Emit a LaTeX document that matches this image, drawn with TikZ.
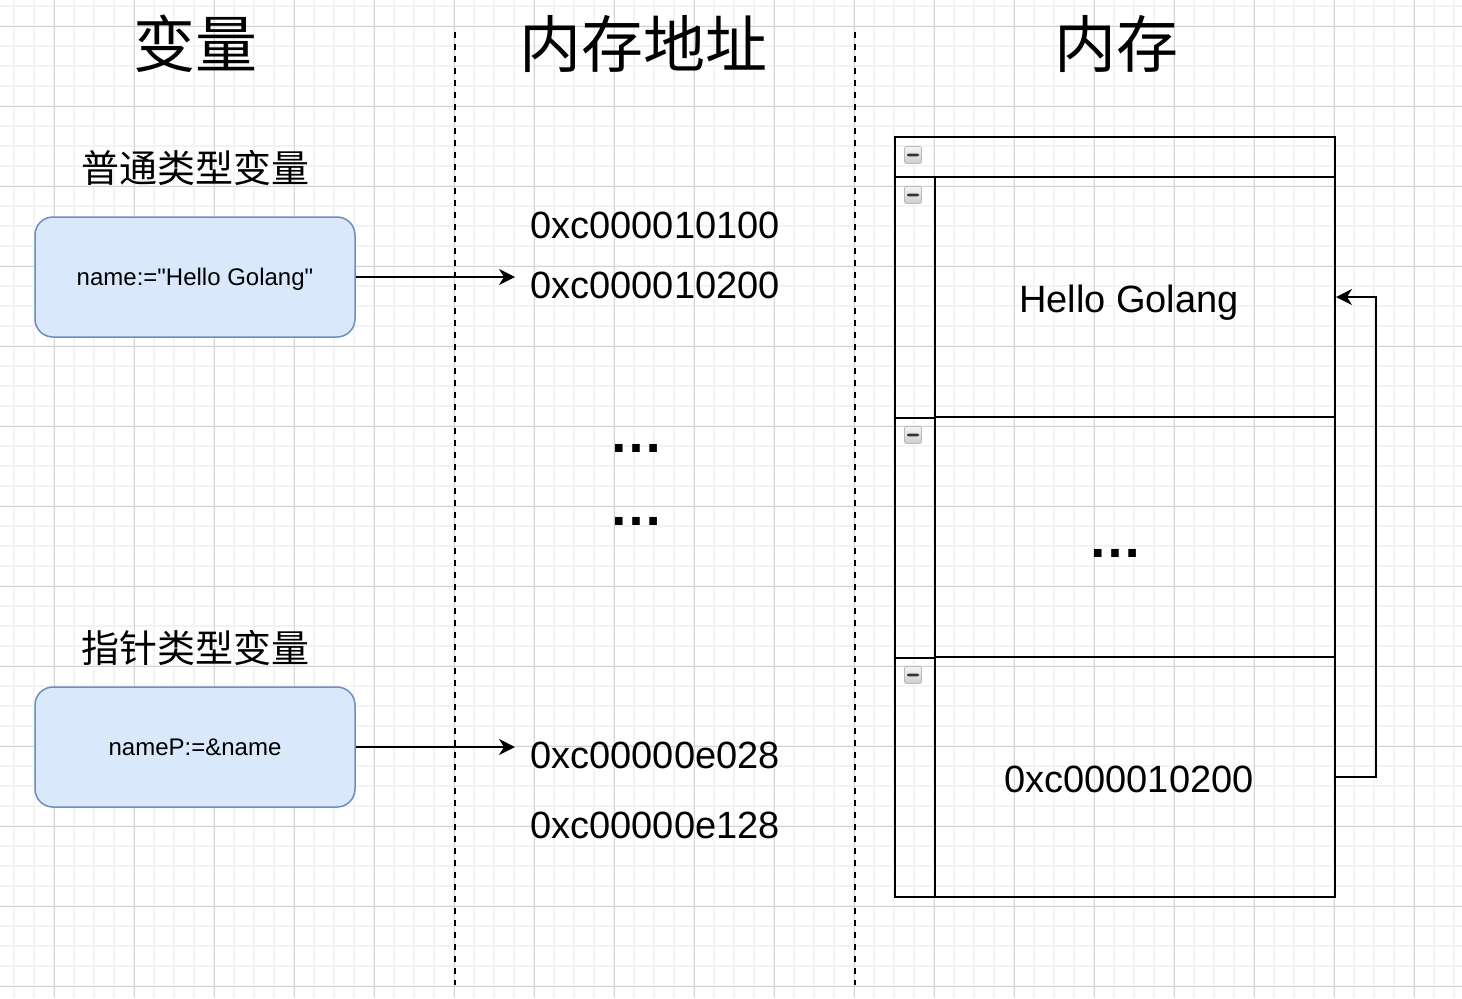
\documentclass[tikz,border=0pt]{standalone}
\usepackage{fontspec}
\setmainfont{Liberation Sans}[Ligatures=TeXOff]
\newfontfamily\cjk{Noto Sans CJK SC}
\usetikzlibrary{arrows.meta}
\definecolor{minorgrid}{HTML}{F3F3F3}
\definecolor{majorgrid}{HTML}{D4D4D4}
\definecolor{boxfill}{HTML}{DAE8FC}
\definecolor{boxline}{HTML}{6C8EBF}

\begin{document}
\begin{tikzpicture}[x=0.5pt,y=-0.5pt,
  title/.style={font=\cjk\fontsize{31}{36}\selectfont,inner sep=0},
  kind/.style={font=\cjk\fontsize{19}{23}\selectfont,inner sep=0},
  var/.style={draw=boxline,fill=boxfill,line width=0.75pt,rounded corners=9pt,
    minimum width=160pt,minimum height=60pt,font=\fontsize{12}{14}\selectfont,text depth=0pt},
  addr/.style={anchor=west,inner sep=0,font=\fontsize{19}{23}\selectfont,text depth=0pt},
  dots/.style={inner sep=0,font=\bfseries\fontsize{27}{30}\selectfont},
  cell/.style={draw,line width=1pt,inner sep=0},
  icon/.style={draw=gray!55,rounded corners=1pt,minimum size=8.5pt,inner sep=0,
    top color=gray!8,bottom color=gray!40,
    path picture={\fill[black!80] ([xshift=-3pt,yshift=-0.7pt]path picture bounding box.center)
      rectangle ([xshift=3pt,yshift=0.7pt]path picture bounding box.center);}},
  arr/.style={-{Stealth[length=8pt,width=8pt,inset=2.5pt]},line width=0.6pt}]
\useasboundingbox (0,0) rectangle (1462,998);
\fill[white] (0,0) rectangle (1462,998);
% grid
\foreach \x in {14,34,...,1454}
  \draw[minorgrid,line width=1pt] (\x,0) -- (\x,998);
\foreach \y in {6,26,...,986}
  \draw[minorgrid,line width=1pt] (0,\y) -- (1462,\y);
\foreach \x in {54,134,...,1414}
  \draw[majorgrid,line width=0.5pt] (\x,0) -- (\x,998);
\foreach \y in {26,106,...,986}
  \draw[majorgrid,line width=0.5pt] (0,\y) -- (1462,\y);

% column separators
\draw[dash pattern=on 3pt off 3pt,line width=1pt] (455,32) -- (455,985);
\draw[dash pattern=on 3pt off 3pt,line width=1pt] (855,32) -- (855,985);

% headings
\node[title] (hvar) at (195,44) {变量};
\node[title] (haddr) at (643,44) {内存地址};
\node[title] (hmem) at (1116,44) {内存};

% variables
\node[kind] (kind1) at (195,168) {普通类型变量};
\node[var] (var1) at (195,277) {name:="Hello Golang"};
\node[kind] (kind2) at (195,648) {指针类型变量};
\node[var] (var2) at (195,747) {nameP:=\&name};

% addresses
\node[addr] (addr1) at (530,225) {0xc000010100};
\node[addr] (addr2) at (530,285) {0xc000010200};
\node[dots] (gap1) at (636,448) {…};
\node[dots] (gap2) at (636,521) {…};
\node[addr] (addr3) at (530,755) {0xc00000e028};
\node[addr] (addr4) at (530,825) {0xc00000e128};
\coordinate (tip1) at (515,277);
\coordinate (tip2) at (515,747);
\draw[arr] (var1.east) -- (tip1);
\draw[arr] (var2.east) -- (tip2);

% memory
\node[cell,minimum width=220pt,minimum height=20pt] (head) at (1115,157) {};
\node[cell,minimum width=20pt,minimum height=360pt] (side) at (915,537) {};
\node[cell,minimum width=200pt,minimum height=120pt] (cell1) at (1135,297) {};
\node[cell,minimum width=200pt,minimum height=120pt] (cell2) at (1135,537) {};
\node[cell,minimum width=200pt,minimum height=120pt] (cell3) at (1135,777) {};
\draw[line width=1pt] (cell1.south west -| side.west) -- (cell1.south west);
\draw[line width=1pt] (cell2.south west -| side.west) -- (cell2.south west);
\node[icon] (i0) at (913,155) {};
\node[icon] (i1) at (913,195) {};
\node[icon] (i2) at (913,435) {};
\node[icon] (i3) at (913,675) {};
\node[addr,anchor=center] (val1) at (1129,299) {Hello Golang};
\node[dots] (val2) at (1115,553) {…};
\node[addr,anchor=center] (val3) at (1129,779) {0xc000010200};
\draw[arr] (cell3.east) -- ++(40,0) |- (cell1.east);
\end{tikzpicture}
\end{document}
